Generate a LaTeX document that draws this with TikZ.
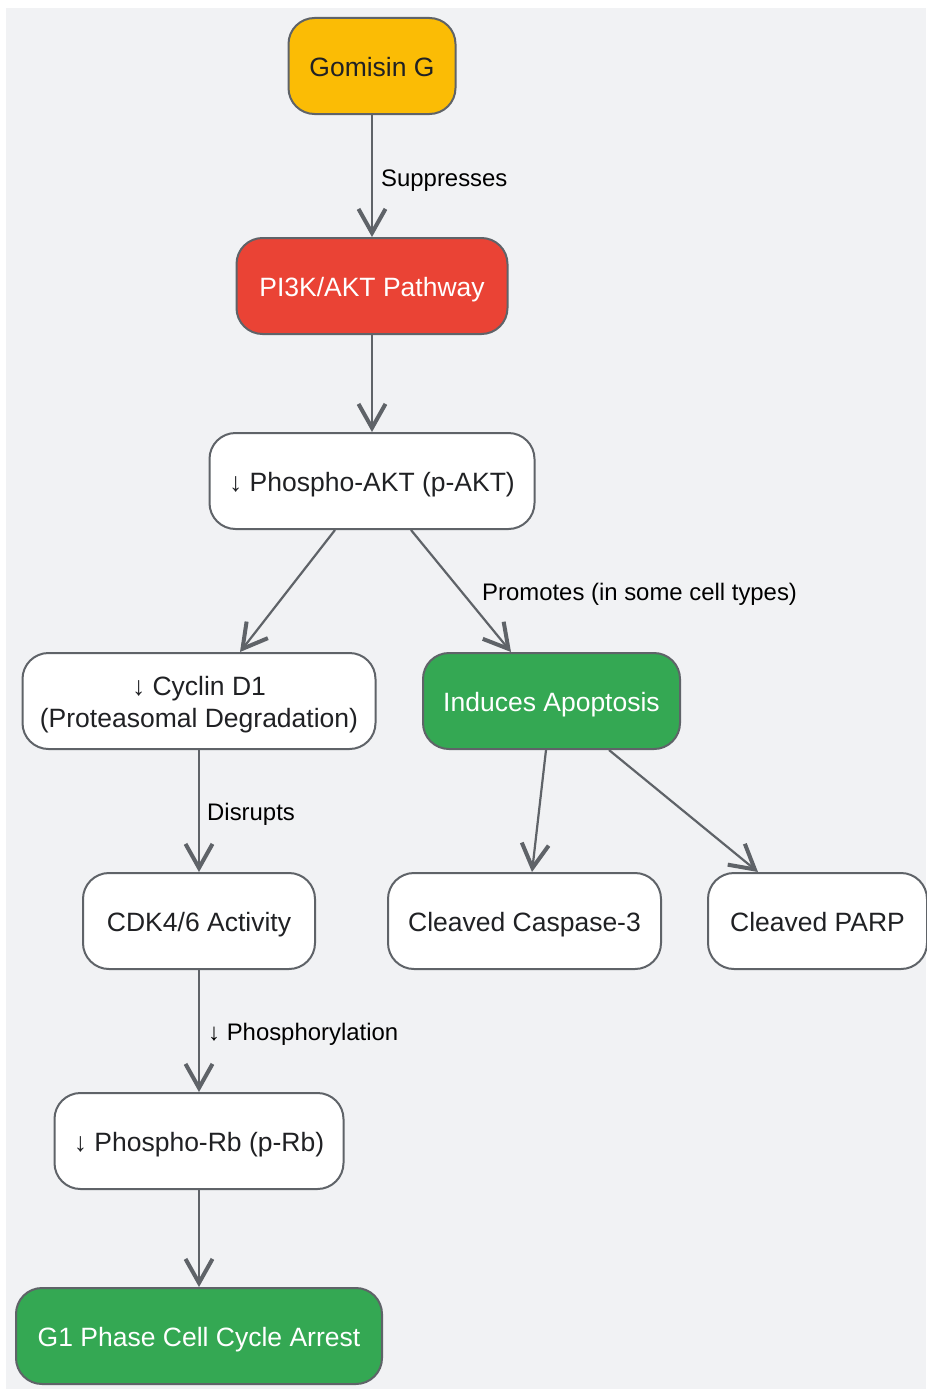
\documentclass[tikz,border=0pt]{standalone}
\usepackage{fontspec}
\setmainfont{Liberation Sans}
\usetikzlibrary{arrows.meta}
\definecolor{bgc}{HTML}{F1F2F4}
\definecolor{edgec}{HTML}{5F6368}
\definecolor{yel}{HTML}{FBBC05}
\definecolor{redc}{HTML}{EA4335}
\definecolor{grn}{HTML}{34A853}
\definecolor{txt}{HTML}{202124}
\tikzset{
  box/.style={draw=edgec, line width=2pt, rounded corners=26pt, align=center,
    font=\fontsize{26.5}{32}\selectfont, text=txt, fill=white, inner sep=0pt,
    text height=21pt, text depth=0pt},
  conn/.style={draw=edgec, line width=2.2pt, -{Straight Barb[length=24pt,width=27pt,line width=4pt,line cap=butt,line join=miter]}},
  elabel/.style={font=\fontsize{23.9}{28}\selectfont, text=black, anchor=west, inner sep=0pt},
}
\begin{document}
\begin{tikzpicture}[x=1pt,y=-1pt]
\useasboundingbox (0,0) rectangle (926,1389);
\fill[bgc] (6,8) rectangle (926,1389);
\node[box, fill=yel, minimum width=167pt, minimum height=96pt] (g) at (372,66) {Gomisin G};
\node[box, fill=redc, text=white, minimum width=271pt, minimum height=96pt] (pi) at (372,286) {PI3K/AKT Pathway};
\node[box, minimum width=325pt, minimum height=96pt] (pakt) at (372,481) {↓ Phospho-AKT (p-AKT)};
\node[box, minimum width=353pt, minimum height=96pt, text height=53pt, text depth=0pt] (cyc) at (199,701) {↓ Cyclin D1\\(Proteasomal Degradation)};
\node[box, fill=grn, text=white, minimum width=257pt, minimum height=96pt] (apo) at (551.5,701) {Induces Apoptosis};
\node[box, minimum width=232pt, minimum height=96pt] (cdk) at (199,921) {CDK4/6 Activity};
\node[box, minimum width=273pt, minimum height=96pt] (casp) at (524.5,921) {Cleaved Caspase-3};
\node[box, minimum width=219pt, minimum height=96pt] (parp) at (817.5,921) {Cleaved PARP};
\node[box, minimum width=289pt, minimum height=96pt] (prb) at (199,1141) {↓ Phospho-Rb (p-Rb)};
\node[box, fill=grn, text=white, minimum width=366pt, minimum height=96pt] (g1) at (199,1336) {G1 Phase Cell Cycle Arrest};

\draw[conn] (g) -- (pi);
\node[elabel] (l1) at (381,180.5) {Suppresses};
\draw[conn] (pi) -- (pakt);
\draw[conn] (pakt.south -| 335,0) -- (cyc.north -| 240,0);
\draw[conn] (pakt.south -| 411,0) -- (apo.north -| 511,0);
\node[elabel] (l2) at (482,594.5) {Promotes (in some cell types)};
\draw[conn] (cyc) -- (cdk);
\node[elabel] (l3) at (207,814.5) {Disrupts};
\draw[conn] (apo.south -| 546,0) -- (casp.north -| 532,0);
\draw[conn] (apo.south -| 609,0) -- (parp.north -| 758,0);
\draw[conn] (cdk) -- (prb);
\node[elabel] (l4) at (208,1034.5) {↓ Phosphorylation};
\draw[conn] (prb) -- (g1);
\end{tikzpicture}
\end{document}
